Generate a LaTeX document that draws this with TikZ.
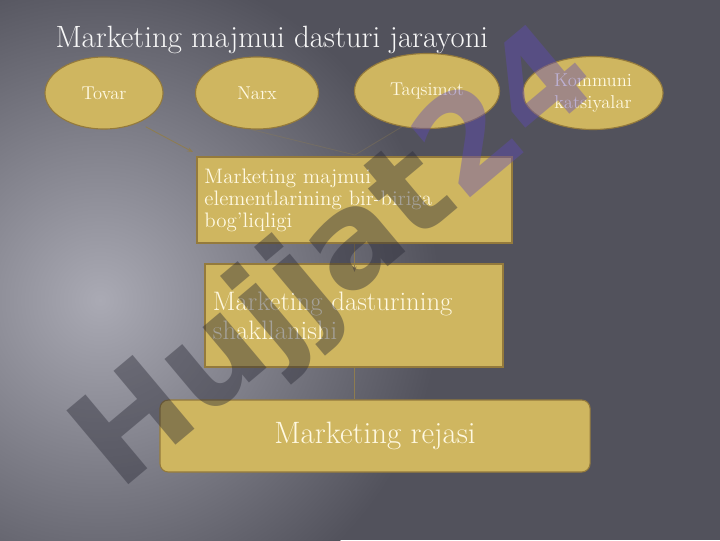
\documentclass[tikz,border=0pt]{standalone}
\usepackage{xcolor}
\usepackage{fontspec}
\usepackage{tikz}
\usetikzlibrary{shapes}
\usetikzlibrary{positioning}
\usetikzlibrary{shapes.geometric}
\usetikzlibrary{arrows.meta}
\newfontfamily\wmfont{DejaVu Sans}
\definecolor{gold}{RGB}{207,182,96}
\definecolor{golddark}{RGB}{148,122,60}
\definecolor{cream}{RGB}{255,249,226}
\definecolor{bgdark}{RGB}{82,82,92}
\definecolor{bglight}{RGB}{170,170,180}
\definecolor{wmgray}{RGB}{40,40,52}
\definecolor{wmpurple}{RGB}{96,74,186}
\tikzset{
    myellipse/.style = {ellipse, draw=golddark, fill=gold, thick, inner sep=0pt, align=center, text=cream, font=\fontsize{13.2}{15.6}\selectfont},
    mybox/.style = {rectangle, draw=golddark, fill=gold, thick, inner sep=0pt, text=cream},
    myboxr/.style = {mybox, rounded corners=6pt},
    myarrow/.style = {draw=golddark!70!gray, semithick, -{Stealth[length=4pt,width=3pt]}},
    myline/.style = {draw=golddark!70!gray, semithick},
    mywater/.style = {text opacity=0.42, font=\wmfont\bfseries\fontsize{94}{94}\selectfont, rotate=40},
}

\begin{document}
\begin{tikzpicture}[
    x=0.025cm,
    y=-0.025cm,
    thick
  ]
  \useasboundingbox (0,0) rectangle (720,540);
  % background
  \fill[bgdark] (0,0) rectangle (720,540);
  \begin{scope}
    \clip (0,0) rectangle (720,540);
    \shade[inner color=bglight, outer color=bgdark] (100,300) circle (340);
  \end{scope}

  \node[anchor=base west, inner sep=0pt, text=white!94!gray, font=\fontsize{21.9}{26}\selectfont] (title) at (55,47) {Marketing majmui dasturi jarayoni};

  \node[myellipse, minimum width=2.95cm, minimum height=1.8cm] (tovar) at (104,93) {Tovar};
  \node[myellipse, minimum width=3.075cm, minimum height=1.8cm] (narx) at (257,93) {Narx};
  \node[myellipse, minimum width=3.625cm, minimum height=1.875cm] (taqsimot) at (427,91) {Taqsimot};
  \node[myellipse, minimum width=3.5cm, minimum height=1.825cm] (kommuni) at (593,93) {Kommuni\\katsiyalar};

  \node[mybox, minimum width=7.875cm, minimum height=2.15cm, text width=7.5cm, align=left,
        font=\fontsize{14.9}{15.6}\selectfont] (elementlar) at (354.5,200)
        {Marketing majmui\\elementlarining bir-biriga\\bog’liqligi};
  \node[mybox, minimum width=7.45cm, minimum height=2.575cm, text width=7.05cm, align=left,
        font=\fontsize{19}{20.6}\selectfont] (dastur) at (354,315.5)
        {Marketing dasturining\\shakllanishi};
  \node[myboxr, minimum width=10.75cm, minimum height=1.8cm,
        font=\fontsize{22}{26}\selectfont] (reja) at (375,436) {Marketing rejasi};

  \coordinate (tovarend) at (193,152);
  \coordinate (elemtop) at (355,155);
  \draw[myarrow, shorten <=6pt] (tovar.-41) -- (tovarend);
  \draw[myline, opacity=0.35] (narx.-100) -- (elemtop);
  \draw[myline, opacity=0.35] (taqsimot.-125) -- (elemtop);
  \draw[myarrow, shorten >=-6pt] (elementlar.south) -- (elementlar.south |- dastur.north);
  \draw[myline] (dastur.south) -- (dastur.south |- reja.north);

  % watermark
  \node[mywater] (wm) at (338,262) {\textcolor{wmgray}{Hujjat}\textcolor{wmpurple}{24}};
\end{tikzpicture}
\end{document}
